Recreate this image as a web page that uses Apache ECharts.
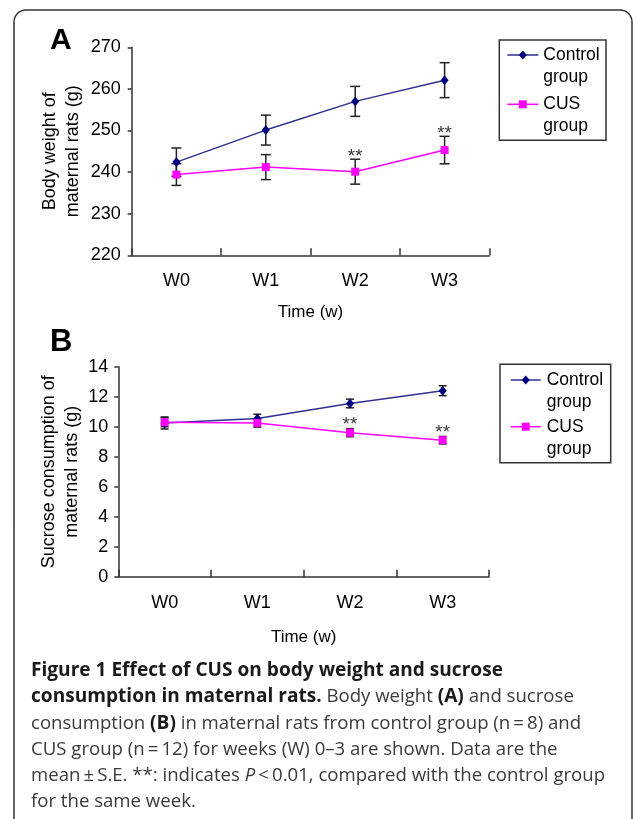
<!DOCTYPE html>
<html>
<head>
<meta charset="utf-8">
<script src="https://cdn.jsdelivr.net/npm/echarts@6/dist/echarts.min.js"></script>
<style>
html,body{margin:0;padding:0;background:#fff;}
#chart{width:633px;height:819px;}
</style>
</head>
<body>
<div id="chart"></div>
<script>
// ---- data ----
const categories = ['W0', 'W1', 'W2', 'W3'];
const bwControl = [242.4, 250.1, 257.0, 262.1];
const bwControlSE = [3.4, 3.6, 3.6, 4.2];
const bwCUS = [239.4, 241.2, 240.1, 245.3];
const bwCUSSE = [2.6, 3.0, 3.0, 3.3];
const sucControl = [10.25, 10.55, 11.55, 12.4];
const sucControlSE = [0.4, 0.28, 0.29, 0.33];
const sucCUS = [10.3, 10.25, 9.6, 9.1];
const sucCUSSE = [0.3, 0.28, 0.27, 0.25];
const significance = ['', '', '**', '**'];
const bwTicks = { min: 220, max: 270, interval: 10 };
const sucTicks = { min: 0, max: 14, interval: 2 };
const seriesNames = ['Control group', 'CUS group'];

// ---- styling ----
const FONT = '"Liberation Sans", Arial, sans-serif';
const CTRL_LINE = '#2f2f92';
const CTRL_MARK = '#000080';
const CUS_COLOR = '#ff00ff';
const AXIS_COLOR = '#333';

function errData(mean, se) {
  return mean.map((m, i) => [i, m - se[i], m + se[i]]);
}
function starData(mean, se) {
  return mean.map((m, i) => [i, m + se[i]]);
}
function errRender(halfW) {
  return function (params, api) {
    const x = api.value(0), lo = api.value(1), hi = api.value(2);
    const pLo = api.coord([x, lo]), pHi = api.coord([x, hi]);
    const style = { stroke: '#222', lineWidth: 1.5 };
    return {
      type: 'group', children: [
        { type: 'line', shape: { x1: pLo[0], y1: pLo[1], x2: pHi[0], y2: pHi[1] }, style },
        { type: 'line', shape: { x1: pLo[0] - halfW, y1: pLo[1], x2: pLo[0] + halfW, y2: pLo[1] }, style },
        { type: 'line', shape: { x1: pHi[0] - halfW, y1: pHi[1], x2: pHi[0] + halfW, y2: pHi[1] }, style }
      ]
    };
  };
}

function xAxisCfg(gridIndex, nameGap) {
  return {
    type: 'category', gridIndex, data: categories,
    boundaryGap: true,
    name: 'Time (w)', nameLocation: 'middle', nameGap, nameMoveOverlap: false,
    nameTextStyle: { fontFamily: FONT, fontSize: 17, color: '#000' },
    axisLine: { show: true, lineStyle: { color: AXIS_COLOR, width: 1.5 } },
    axisTick: { show: true, inside: true, length: 7, alignWithLabel: false, lineStyle: { color: AXIS_COLOR, width: 1.5 } },
    axisLabel: { fontFamily: FONT, fontSize: 18, color: '#000', margin: 17 },
    splitLine: { show: false }
  };
}
function yAxisCfg(gridIndex, ticks, name, nameGap, margin) {
  return {
    type: 'value', gridIndex, min: ticks.min, max: ticks.max, interval: ticks.interval,
    name, nameLocation: 'middle', nameRotate: 90, nameGap, nameMoveOverlap: false,
    nameTextStyle: { fontFamily: FONT, fontSize: 18, color: '#000', lineHeight: 23 },
    axisLine: { show: true, lineStyle: { color: AXIS_COLOR, width: 1.5 } },
    axisTick: { show: true, inside: false, length: 4, lineStyle: { color: AXIS_COLOR, width: 1.5 } },
    axisLabel: { fontFamily: FONT, fontSize: 18, color: '#000', margin },
    splitLine: { show: false }
  };
}
function lineSeries(name, data, xi, color, lineColor, symbol, size) {
  return {
    type: 'line', name, data, xAxisIndex: xi, yAxisIndex: xi,
    symbol, symbolSize: size, z: 3,
    lineStyle: { color: lineColor, width: 1.5 },
    itemStyle: { color },
    animation: false
  };
}
function errSeries(data, xi, halfW) {
  return {
    type: 'custom', data, xAxisIndex: xi, yAxisIndex: xi, z: 2,
    renderItem: errRender(halfW), animation: false, silent: true
  };
}
function starSeries(data, xi, dist) {
  return {
    type: 'scatter', data, xAxisIndex: xi, yAxisIndex: xi, symbolSize: 0, z: 4,
    label: {
      show: true, position: 'top', distance: dist,
      formatter: p => significance[p.dataIndex],
      fontFamily: FONT, fontSize: 19, color: '#000'
    },
    animation: false, silent: true
  };
}

function legendGraphic(box, lineY1, lineY2, lineX1, lineX2, textX) {
  const mid = (lineX1 + lineX2) / 2;
  const ts = { fontFamily: FONT, fontSize: 17.5, fill: '#000', textVerticalAlign: 'middle' };
  const lines = seriesNames.map(s => s.split(' '));
  return [
    { type: 'rect', shape: { x: box[0], y: box[1], width: box[2], height: box[3] },
      style: { fill: '#fff', stroke: '#333', lineWidth: 1.5 }, z: 5 },
    { type: 'line', shape: { x1: lineX1, y1: lineY1, x2: lineX2, y2: lineY1 }, style: { stroke: CTRL_LINE, lineWidth: 1.5 }, z: 6 },
    { type: 'polygon', shape: { points: [[mid, lineY1 - 4.5], [mid + 4, lineY1], [mid, lineY1 + 4.5], [mid - 4, lineY1]] }, style: { fill: CTRL_MARK }, z: 7 },
    { type: 'text', x: textX, y: lineY1, style: Object.assign({ text: lines[0][0] }, ts), z: 6 },
    { type: 'text', x: textX, y: lineY1 + 22, style: Object.assign({ text: lines[0][1] }, ts), z: 6 },
    { type: 'line', shape: { x1: lineX1, y1: lineY2, x2: lineX2, y2: lineY2 }, style: { stroke: CUS_COLOR, lineWidth: 1.5 }, z: 6 },
    { type: 'rect', shape: { x: mid - 4, y: lineY2 - 4, width: 8, height: 8 }, style: { fill: CUS_COLOR }, z: 7 },
    { type: 'text', x: textX, y: lineY2, style: Object.assign({ text: lines[1][0] }, ts), z: 6 },
    { type: 'text', x: textX, y: lineY2 + 22, style: Object.assign({ text: lines[1][1] }, ts), z: 6 }
  ];
}

const CAP_FONT = '"Open Sans", "Noto Sans", sans-serif';
const CAP_B = 19.1;
const CAP_R = 18.6;
const CAP_LH = 26.3;
const caption = {
  type: 'text', x: 31, y: 657.5, z: 5,
  style: {
    text: [
      '{b|Figure 1 Effect of CUS on body weight and sucrose}',
      '{b|consumption in maternal rats.}{r| Body weight }{b|(A)}{r| and sucrose}',
      '{r|consumption }{b|(B)}{r| in maternal rats from control group (n\u2009=\u20098) and}',
      '{r|CUS group (n\u2009=\u200912) for weeks (W) 0\u20133 are shown. Data are the}',
      '{r|mean\u2009\u00b1\u2009S.E. **: indicates }{i|P}{r|\u2009<\u20090.01, compared with the control group}',
      '{r|for the same week.}'
    ].join('\n'),
    rich: {
      b: { fontFamily: CAP_FONT, fontSize: CAP_B, fontWeight: 'bold', fill: '#1a1a1a', lineHeight: CAP_LH },
      r: { fontFamily: CAP_FONT, fontSize: CAP_R, fill: '#3a3a3a', lineHeight: CAP_LH },
      i: { fontFamily: CAP_FONT, fontSize: CAP_R, fontStyle: 'italic', fill: '#3a3a3a', lineHeight: CAP_LH }
    }
  }
};

const option = {
  backgroundColor: '#fff',
  animation: false,
  grid: [
    { left: 131.7, right: 143.7, top: 47.3, height: 208 },
    { left: 118.3, right: 144, top: 366.7, height: 210 }
  ],
  xAxis: [xAxisCfg(0, 49), xAxisCfg(1, 52)],
  yAxis: [
    yAxisCfg(0, bwTicks, 'Body weight of\nmaternal rats (g)', 47, 11),
    yAxisCfg(1, sucTicks, 'Sucrose consumption of\nmaternal rats (g)', 35, 10)
  ],
  series: [
    errSeries(errData(bwControl, bwControlSE), 0, 5),
    errSeries(errData(bwCUS, bwCUSSE), 0, 5),
    lineSeries(seriesNames[0], bwControl, 0, CTRL_MARK, CTRL_LINE, 'diamond', [8, 10]),
    lineSeries(seriesNames[1], bwCUS, 0, CUS_COLOR, CUS_COLOR, 'rect', 8),
    starSeries(starData(bwCUS, bwCUSSE), 0, -7),
    errSeries(errData(sucControl, sucControlSE), 1, 4),
    errSeries(errData(sucCUS, sucCUSSE), 1, 4),
    lineSeries(seriesNames[0], sucControl, 1, CTRL_MARK, CTRL_LINE, 'diamond', [8, 10]),
    lineSeries(seriesNames[1], sucCUS, 1, CUS_COLOR, CUS_COLOR, 'rect', 8),
    starSeries(starData(sucCUS, sucCUSSE), 1, -6)
  ],
  graphic: [
    { type: 'rect', shape: { x: 14, y: 10, width: 618, height: 840, r: 12 },
      style: { fill: 'none', stroke: '#333', lineWidth: 1.5 }, z: 1 },
    { type: 'text', x: 50, y: 41, style: { text: 'A', fontFamily: FONT, fontSize: 30, fontWeight: 'bold', fill: '#000', textVerticalAlign: 'middle' } },
    { type: 'text', x: 50, y: 342, style: { text: 'B', fontFamily: FONT, fontSize: 31, fontWeight: 'bold', fill: '#000', textVerticalAlign: 'middle' } },
    ...legendGraphic([499.3, 40, 106.7, 100.3], 55, 104.3, 507.3, 538.3, 543.3),
    ...legendGraphic([500, 364.3, 110.7, 98.4], 380, 426.7, 510.7, 540.7, 546.7),
    caption
  ]
};

const chart = echarts.init(document.getElementById('chart'), null, { renderer: 'canvas' });
chart.setOption(option);
</script>
</body>
</html>
